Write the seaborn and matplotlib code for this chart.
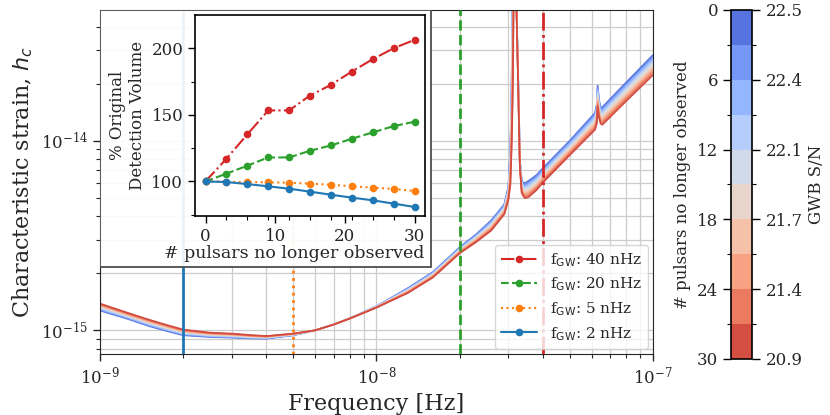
import numpy as np
import pandas as pd
import matplotlib
matplotlib.use("Agg")
import matplotlib.pyplot as plt
import seaborn as sns
from matplotlib.colors import ListedColormap, BoundaryNorm
from matplotlib.cm import ScalarMappable
from matplotlib.patches import Rectangle
from matplotlib.ticker import FixedLocator, NullFormatter

# sensitivity curves, frequency in nHz, h_c in units of 1e-15
freq_nhz = [1.0, 1.25, 1.5, 1.75, 2.0, 2.5, 3.0, 3.5, 4.0, 5.0, 6.0, 7.0, 8.0, 10.0, 13.0, 16.0,
            20.0, 23.0, 26.0, 29.0, 30.0, 30.5, 30.8, 31.1, 31.7, 32.1, 32.5, 32.8, 33.0, 33.5,
            34.0, 34.5, 35.5, 38.0, 40.0, 50.0, 61.7, 62.6, 63.1, 63.8, 64.7, 65.6, 80.0, 100.0]

hc_00 = [1.271, 1.153, 1.054, 0.990, 0.942, 0.922, 0.915, 0.906, 0.904, 0.941, 1.000, 1.073, 1.157, 1.339, 1.670, 2.030,
         2.740, 3.220, 3.800, 4.620, 5.730, 9.18, 18.6, 70.0, 320, 49, 23.7, 12.9, 7.93, 6.22,
         5.97, 5.99, 6.14, 6.61, 7.17, 10.0, 14.02, 15.5, 19.54, 16.48, 14.89, 15.04, 20.3, 28.35]
hc_03 = [1.282, 1.162, 1.063, 0.998, 0.949, 0.927, 0.920, 0.910, 0.907, 0.943, 1.000, 1.073, 1.157, 1.337, 1.661, 2.017,
         2.721, 3.191, 3.756, 4.568, 5.645, 8.85, 17.6, 64.7, 316, 49, 23.4, 12.7, 7.87, 6.13,
         5.88, 5.89, 6.03, 6.50, 7.06, 9.84, 13.76, 15.2, 19.10, 16.16, 14.63, 14.75, 19.9, 27.74]
hc_06 = [1.294, 1.171, 1.071, 1.005, 0.955, 0.932, 0.924, 0.914, 0.910, 0.945, 1.000, 1.073, 1.156, 1.335, 1.651, 2.004,
         2.702, 3.162, 3.712, 4.516, 5.560, 8.51, 16.7, 59.3, 312, 49, 23.2, 12.5, 7.80, 6.04,
         5.79, 5.79, 5.92, 6.39, 6.94, 9.68, 13.50, 14.9, 18.66, 15.83, 14.37, 14.46, 19.5, 27.12]
hc_09 = [1.305, 1.179, 1.080, 1.013, 0.962, 0.937, 0.929, 0.917, 0.913, 0.947, 1.000, 1.073, 1.156, 1.333, 1.642, 1.991,
         2.683, 3.133, 3.668, 4.464, 5.475, 8.18, 15.7, 54.0, 308, 49, 22.9, 12.3, 7.74, 5.95,
         5.71, 5.69, 5.81, 6.28, 6.83, 9.52, 13.24, 14.5, 18.22, 15.51, 14.11, 14.17, 19.1, 26.51]
hc_12 = [1.316, 1.188, 1.088, 1.020, 0.969, 0.942, 0.933, 0.921, 0.916, 0.949, 1.000, 1.073, 1.155, 1.331, 1.632, 1.978,
         2.664, 3.104, 3.624, 4.412, 5.390, 7.85, 14.7, 48.6, 304, 49, 22.6, 12.1, 7.67, 5.86,
         5.62, 5.59, 5.70, 6.17, 6.71, 9.36, 12.98, 14.2, 17.78, 15.18, 13.85, 13.88, 18.7, 25.90]
hc_15 = [1.328, 1.197, 1.097, 1.028, 0.976, 0.947, 0.938, 0.925, 0.919, 0.951, 1.000, 1.073, 1.155, 1.329, 1.623, 1.965,
         2.645, 3.075, 3.580, 4.360, 5.305, 7.52, 13.8, 43.3, 300, 49, 22.4, 12.0, 7.61, 5.77,
         5.53, 5.49, 5.60, 6.06, 6.60, 9.20, 12.73, 13.9, 17.34, 14.86, 13.60, 13.60, 18.3, 25.29]
hc_18 = [1.339, 1.206, 1.105, 1.035, 0.982, 0.952, 0.943, 0.929, 0.921, 0.953, 1.000, 1.073, 1.155, 1.326, 1.613, 1.952,
         2.626, 3.046, 3.536, 4.308, 5.220, 7.18, 12.8, 37.9, 296, 49, 22.1, 11.8, 7.55, 5.67,
         5.44, 5.38, 5.49, 5.95, 6.48, 9.04, 12.47, 13.6, 16.89, 14.53, 13.34, 13.31, 17.8, 24.67]
hc_21 = [1.350, 1.215, 1.114, 1.043, 0.989, 0.957, 0.947, 0.933, 0.924, 0.955, 1.000, 1.073, 1.154, 1.324, 1.604, 1.939,
         2.607, 3.017, 3.492, 4.256, 5.135, 6.85, 11.9, 32.6, 292, 49, 21.8, 11.6, 7.48, 5.58,
         5.35, 5.28, 5.38, 5.84, 6.37, 8.88, 12.21, 13.3, 16.45, 14.21, 13.08, 13.02, 17.4, 24.06]
hc_24 = [1.361, 1.223, 1.122, 1.050, 0.996, 0.962, 0.952, 0.936, 0.927, 0.957, 1.000, 1.073, 1.154, 1.322, 1.594, 1.926,
         2.588, 2.988, 3.448, 4.204, 5.050, 6.52, 10.9, 27.2, 288, 49, 21.5, 11.4, 7.42, 5.49,
         5.27, 5.18, 5.27, 5.73, 6.25, 8.72, 11.95, 12.9, 16.01, 13.88, 12.82, 12.73, 17.0, 23.45]
hc_27 = [1.373, 1.232, 1.131, 1.058, 1.002, 0.967, 0.956, 0.940, 0.930, 0.959, 1.000, 1.073, 1.153, 1.320, 1.585, 1.913,
         2.569, 2.959, 3.404, 4.152, 4.965, 6.18, 9.92, 21.9, 284, 49, 21.3, 11.2, 7.35, 5.40,
         5.18, 5.08, 5.16, 5.62, 6.14, 8.56, 11.69, 12.6, 15.57, 13.56, 12.56, 12.44, 16.6, 22.83]
hc_30 = [1.384, 1.241, 1.139, 1.065, 1.009, 0.972, 0.961, 0.944, 0.933, 0.961, 1.000, 1.072, 1.153, 1.318, 1.575, 1.900,
         2.550, 2.930, 3.360, 4.100, 4.880, 5.85, 8.96, 16.5, 280, 49, 21.0, 11.0, 7.29, 5.31,
         5.09, 4.98, 5.05, 5.51, 6.02, 8.40, 11.43, 12.3, 15.13, 13.23, 12.30, 12.15, 16.2, 22.22]

n_removed = [0, 3, 6, 9, 12, 15, 18, 21, 24, 27, 30]
hc_curves = [hc_00, hc_03, hc_06, hc_09, hc_12, hc_15, hc_18, hc_21, hc_24, hc_27, hc_30]

# colorbar: S/N at every 6 pulsars removed
cbar_ticks = [0, 6, 12, 18, 24, 30]
gwb_snr = [22.5, 22.4, 22.1, 21.7, 21.4, 20.9]

# inset: % of original detection volume
pulsars_removed = [0, 3, 6, 9, 12, 15, 18, 21, 24, 27, 30]
vol_40nhz = [100, 117, 135.3, 153.3, 153.3, 164.5, 172.5, 182.5, 191.8, 200, 206.3]
vol_20nhz = [100, 105.8, 111.8, 118, 118, 123, 127, 132, 136.8, 141.5, 144.8]
vol_5nhz = [100, 99.8, 99.5, 99.3, 99, 98.3, 97.5, 96.3, 95.3, 94.3, 92.8]
vol_2nhz = [100, 99.5, 98, 96.3, 94.5, 92.3, 90, 87.8, 85.8, 83.3, 80.8]
f_gw_nhz = [40, 20, 5, 2]

sns.set_style("ticks")
plt.rcParams['font.family'] = ['DejaVu Serif']
plt.rcParams['mathtext.fontset'] = 'dejavusans'

curves = pd.DataFrame({
    'freq': np.tile(np.array(freq_nhz) * 1e-9, len(n_removed)),
    'hc': np.concatenate(hc_curves) * 1e-15,
    'n_removed': np.repeat(n_removed, len(freq_nhz)),
})

fig = plt.figure(figsize=(8.3, 4.15), dpi=100)
ax = fig.add_axes([0.1205, 0.147, 0.6662, 0.829])

sns.lineplot(data=curves, x='freq', y='hc', hue='n_removed',
             palette=sns.color_palette('coolwarm', len(n_removed)),
             legend=False, errorbar=None, lw=1.2, ax=ax, zorder=2)
ax.set_xscale('log')
ax.set_yscale('log')
ax.set_xlim(1e-9, 1e-7)
ax.set_ylim(7.5e-16, 4.9e-14)
# keep every tick inside the view
ax.set_xticks([1e-9, 1e-8, 1e-7])
ax.xaxis.set_minor_locator(FixedLocator([m * 1e-9 for m in range(2, 10)] + [m * 1e-8 for m in range(2, 10)]))
ax.set_yticks([1e-15, 1e-14])
ax.yaxis.set_minor_locator(FixedLocator([8e-16, 9e-16] + [m * 1e-15 for m in range(2, 10)] + [2e-14, 3e-14, 4e-14]))
ax.xaxis.set_minor_formatter(NullFormatter())
ax.yaxis.set_minor_formatter(NullFormatter())
ax.set_axisbelow(True)
ax.grid(True, which='both', color='0.8', lw=0.9)
ax.set_xlabel('Frequency [Hz]', fontsize=16)
ax.set_ylabel('Characteristic strain, $h_c$', fontsize=16)
ax.tick_params(which='major', labelsize=12, length=5, width=1, color='0.15')
ax.tick_params(which='minor', length=3, width=0.8, color='0.15')

colors = {40: '#d62728', 20: '#2ca02c', 5: '#ff7f0e', 2: '#1f77b4'}
styles = {40: '-.', 20: '--', 5: ':', 2: '-'}
for f in f_gw_nhz:
    ax.axvline(f * 1e-9, color=colors[f], ls=styles[f], lw=2, zorder=3)

ax.add_patch(Rectangle((0, 0.253), 0.5986, 0.747, transform=ax.transAxes,
                       facecolor=(1, 1, 1, 0.92), edgecolor='0.3', lw=1.3, zorder=4))

# inset
axin = fig.add_axes([0.235, 0.4795, 0.277, 0.4844])
vols = {40: vol_40nhz, 20: vol_20nhz, 5: vol_5nhz, 2: vol_2nhz}
for f in f_gw_nhz:
    sns.lineplot(x=pulsars_removed, y=vols[f], color=colors[f], linestyle=styles[f],
                 marker='o', markersize=5.5, markeredgewidth=0, lw=1.5, legend=False,
                 label=r'f$_{\rm GW}$: ' + f'{f} nHz', ax=axin)
axin.set_xlim(-1.5, 31.5)
axin.set_ylim(74, 225)
axin.set_xticks([0, 10, 20, 30])
axin.xaxis.set_minor_locator(FixedLocator([3, 6, 9, 12, 15, 18, 21, 24, 27]))
axin.set_yticks([100, 150, 200])
axin.yaxis.set_minor_locator(FixedLocator([75, 125, 175]))
axin.tick_params(which='major', labelsize=12, length=5, width=1, color='k')
axin.tick_params(which='minor', length=3, width=0.8, color='k')
for s in axin.spines.values():
    s.set_color('k')
    s.set_linewidth(1.2)
axin.set_xlabel('# pulsars no longer observed', fontsize=12.5)
axin.xaxis.set_label_coords(0.43, -0.145)
axin.set_ylabel('% Original\nDetection Volume', fontsize=12)

handles, labels = axin.get_legend_handles_labels()
ax.legend(handles, labels, loc='lower right', fontsize=11, borderaxespad=0.35,
          handlelength=2.4, labelspacing=0.45, framealpha=0.8)

# colorbar
cax = fig.add_axes([0.881, 0.135, 0.0253, 0.841])
cmap = ListedColormap(sns.color_palette('coolwarm', len(n_removed) - 1))
norm = BoundaryNorm(n_removed, cmap.N)
cbar = fig.colorbar(ScalarMappable(norm=norm, cmap=cmap), cax=cax, ticks=cbar_ticks)
cbar.ax.invert_yaxis()
cbar.outline.set_edgecolor('k')
cbar.outline.set_linewidth(1.2)
cax.yaxis.set_ticks_position('left')
cax.set_ylabel('# pulsars no longer observed', fontsize=12)
cax.yaxis.set_label_position('left')
cax.yaxis.set_minor_locator(FixedLocator([3, 9, 15, 21, 27]))
cax.tick_params(which='major', labelsize=12, length=6, width=1, color='k')
cax.tick_params(which='minor', length=3, width=0.8, color='k')

cax2 = cax.twinx()
cax2.set_ylim(cax.get_ylim())
cax2.set_yticks(cbar_ticks, labels=[f'{v:.1f}' for v in gwb_snr])
cax2.yaxis.set_minor_locator(FixedLocator([3, 9, 15, 21, 27]))
cax2.tick_params(which='major', labelsize=12, length=6, width=1, color='k')
cax2.tick_params(which='minor', length=3, width=0.8, color='k')
cax2.set_ylabel('GWB S/N', fontsize=12)
for s in cax2.spines.values():
    s.set_visible(False)

fig.savefig('out.png', dpi=100)
